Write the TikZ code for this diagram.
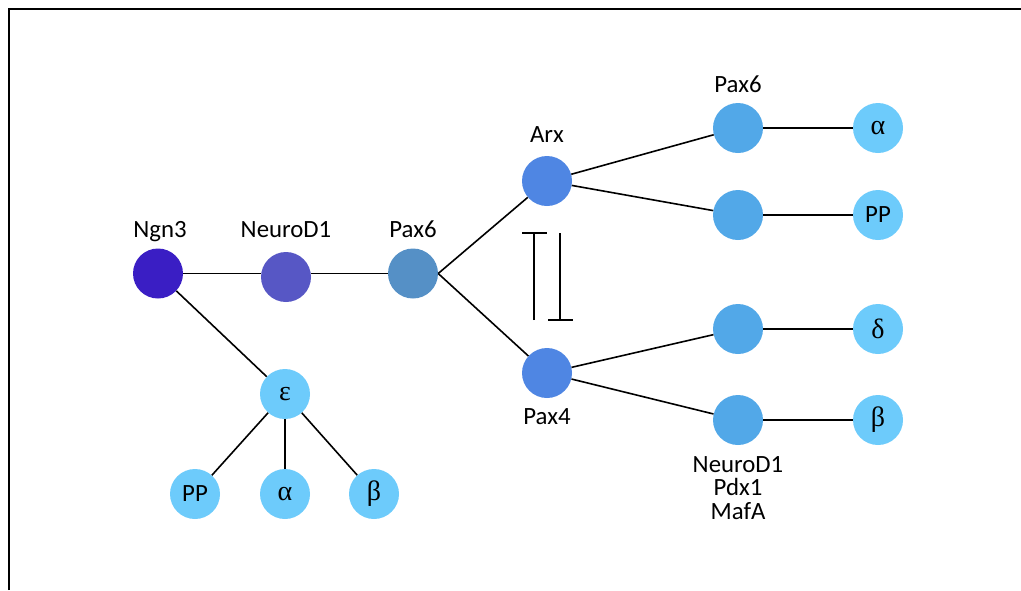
\documentclass[tikz,border=0pt]{standalone}
\usepackage{fontspec}
\setmainfont{Carlito}
\newfontfamily\greekfont{Liberation Serif}
\begin{document}
\begin{tikzpicture}[x=1pt,y=-1pt,
  cell/.style={circle,minimum size=50pt,inner sep=0pt,draw=none},
  lbl/.style={anchor=base,inner sep=0pt,font=\fontsize{24.8}{23.5}\selectfont},
  gk/.style={font=\fontsize{28}{28}\greekfont},
  pp/.style={font=\fontsize{24.8}{24.8}\selectfont},
  link/.style={line width=1.6pt}]
\useasboundingbox (0,0) rectangle (1021,590);
\definecolor{cNgn}{HTML}{3A1EC4}
\definecolor{cNeu}{HTML}{5757C5}
\definecolor{cPax}{HTML}{5590C6}
\definecolor{cArx}{HTML}{4F86E3}
\definecolor{cMid}{HTML}{52A8E8}
\definecolor{cLight}{HTML}{6DCBFB}
% frame
\draw[line width=1.8pt] (9,590) -- (9,9) -- (1021,9);
% nodes
\node[cell,fill=cNgn] (ngn) at (158,273.5) {};
\node[cell,fill=cNeu] (neu) at (286,277) {};
\node[cell,fill=cPax] (pax) at (413,273.5) {};
\node[cell,fill=cArx] (arx) at (547,181) {};
\node[cell,fill=cArx] (pax4) at (547,373) {};
\node[cell,fill=cMid] (r1) at (738,128) {};
\node[cell,fill=cMid] (r2) at (738,215) {};
\node[cell,fill=cMid] (r3) at (738,329) {};
\node[cell,fill=cMid] (r4) at (738,420) {};
\node[cell,fill=cLight,gk] (alpha) at (878,128) {α};
\node[cell,fill=cLight,pp] (pp) at (878,215) {PP};
\node[cell,fill=cLight,gk] (delta) at (878,329) {δ};
\node[cell,fill=cLight,gk] (beta) at (878,420) {β};
\node[cell,fill=cLight,gk] (eps) at (285,394) {ε};
\node[cell,fill=cLight,pp] (epp) at (195,494) {PP};
\node[cell,fill=cLight,gk] (ealpha) at (285,494) {α};
\node[cell,fill=cLight,gk] (ebeta) at (374,494) {β};
% labels
\node[lbl] (lngn) at (160,237) {Ngn3};
\node[lbl] (lneu) at (286,237) {NeuroD1};
\node[lbl] (lpax) at (413,237) {Pax6};
\node[lbl] (larx) at (547,142) {Arx};
\node[lbl] (lpax4) at (547,424) {Pax4};
\node[lbl] (lr1) at (738,92) {Pax6};
\node[lbl,align=center,anchor=north] (lr4) at (738,456) {NeuroD1\\Pdx1\\MafA};
% connectors
\draw[link] (ngn) -- (ngn -| neu.west);
\draw[link] (neu.east |- pax) -- (pax);
\draw[link] (ngn) -- (eps);
\draw[link] (pax.east) -- (arx);
\draw[link] (pax.east) -- (pax4);
\draw[link] (arx) -- (r1);
\draw[link] (arx) -- (r2);
\draw[link] (pax4) -- (r3);
\draw[link] (pax4) -- (r4);
\draw[link] (r1) -- (alpha);
\draw[link] (r2) -- (pp);
\draw[link] (r3) -- (delta);
\draw[link] (r4) -- (beta);
\draw[link] (eps) -- (epp);
\draw[link] (eps) -- (ealpha);
\draw[link] (eps) -- (ebeta);
% mutual inhibition
\coordinate (i1a) at (534,320);
\coordinate (i1b) at (534,233);
\coordinate (i2a) at (560,233);
\coordinate (i2b) at (560,320);
\draw[link] (i1a) -- (i1b);
\draw[link] (522,233) -- (547,233);
\draw[link] (i2a) -- (i2b);
\draw[link] (548,320) -- (573,320);
\end{tikzpicture}
\end{document}
